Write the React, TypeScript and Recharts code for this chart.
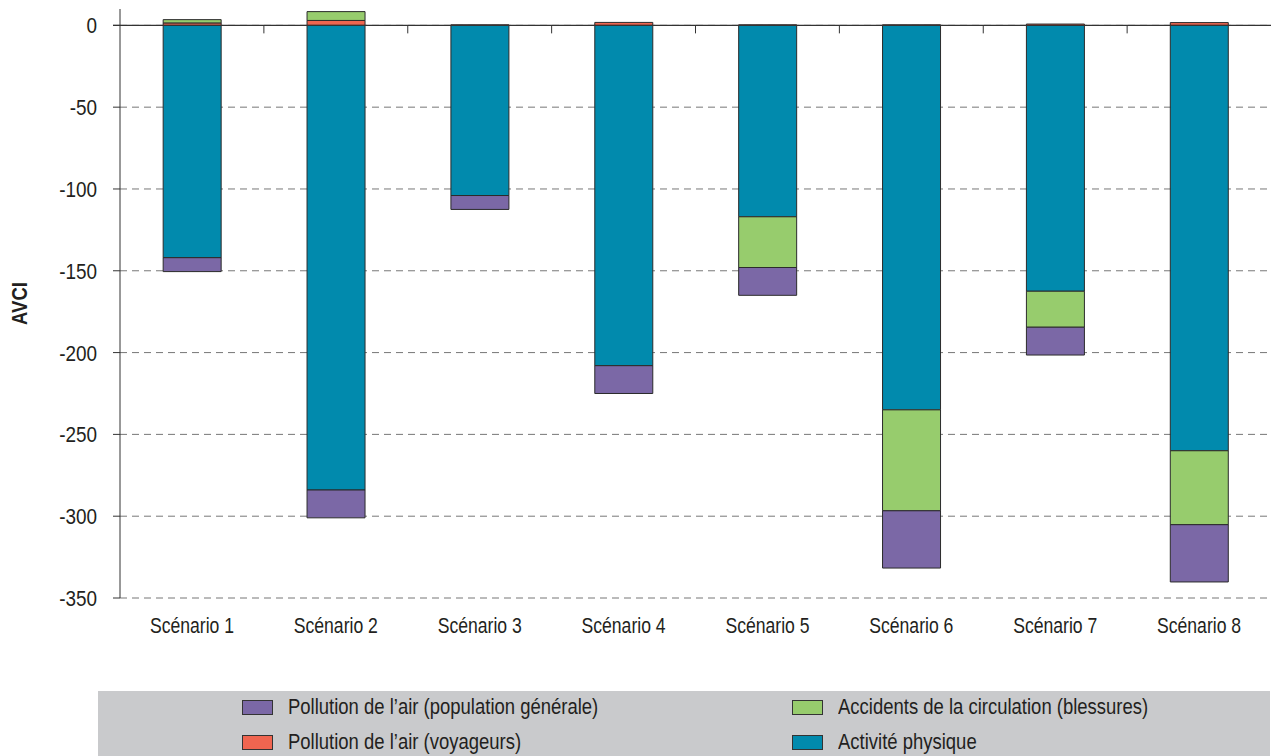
import React from "react";
import {
  BarChart,
  Bar,
  XAxis,
  YAxis,
  CartesianGrid,
  ReferenceLine,
  Legend,
} from "recharts";

const scenarios = [
  "Scénario 1",
  "Scénario 2",
  "Scénario 3",
  "Scénario 4",
  "Scénario 5",
  "Scénario 6",
  "Scénario 7",
  "Scénario 8",
];

// AVCI per scenario
const activitePhysique = [-142, -284, -104, -208, -117, -235, -162.5, -260];
const pollutionVoyageurs = [1.5, 3, 0.3, 1.8, 0.3, 0.3, 0.8, 1.7];
const accidents = [2, 5.4, 0, 0, -31, -61.7, -22, -45.2];
const pollutionGenerale = [-8.5, -17, -8.5, -17, -17, -35, -17, -35];

const yTicks = [0, -50, -100, -150, -200, -250, -300, -350];
const yDomain: [number, number] = [-350, 10];

const series = [
  { key: "activite", label: "Activité physique", color: "#018AAD" },
  { key: "voyageurs", label: "Pollution de l’air (voyageurs)", color: "#F06550" },
  { key: "accidents", label: "Accidents de la circulation (blessures)", color: "#97CC6D" },
  { key: "generale", label: "Pollution de l’air (population générale)", color: "#7B68A6" },
];

// legend is read row by row, two columns
const legendOrder = ["generale", "accidents", "voyageurs", "activite"];

const data = scenarios.map((name, i) => ({
  name,
  activite: activitePhysique[i],
  voyageurs: pollutionVoyageurs[i],
  accidents: accidents[i],
  generale: pollutionGenerale[i],
}));

// no condensed face installed, so squeeze Liberation Sans horizontally
const FONT = "'Liberation Sans', Arial, sans-serif";
const INK = "#231F20";

const XTick = ({ x, y, payload }: any) => (
  <g transform={`translate(${x},${y})`}>
    <text transform="scale(0.8,1)" textAnchor="middle" dy="0.71em" fontSize={22} fill={INK} fontFamily={FONT}>
      {payload.value}
    </text>
  </g>
);

const YTick = ({ x, y, payload }: any) => (
  <g transform={`translate(${x},${y})`}>
    <text transform="scale(0.86,1)" textAnchor="end" dy="0.36em" fontSize={22} fill={INK} fontFamily={FONT}>
      {payload.value}
    </text>
  </g>
);

const AxisTitle = ({ viewBox }: any) => {
  const cy = viewBox.y + viewBox.height / 2;
  return (
    <g transform={`translate(27,${cy}) rotate(-90)`}>
      <text transform="scale(0.84,1)" textAnchor="middle" fontSize={22} fontWeight="bold" fill={INK} fontFamily={FONT}>
        AVCI
      </text>
    </g>
  );
};

// zero line with small ticks between the scenarios
const ZeroLine = (props: any) => {
  const { x1, x2, y1 } = props;
  const step = (x2 - x1) / scenarios.length;
  const ticks = [];
  for (let i = 1; i < scenarios.length; i++) {
    const x = x1 + i * step;
    ticks.push(<line key={i} x1={x} x2={x} y1={y1} y2={y1 + 8} stroke="#333" strokeWidth={1} />);
  }
  return (
    <g>
      <line x1={x1 - 7} x2={x2} y1={y1} y2={y1} stroke="#333" strokeWidth={1.2} />
      {ticks}
    </g>
  );
};

// grid only at the labelled ticks
const gridRows = ({ offset }: any) =>
  yTicks.map((t) => offset.top + ((yDomain[1] - t) / (yDomain[1] - yDomain[0])) * offset.height);

const LegendBox = () => (
  <div
    style={{
      position: "relative",
      width: 1172,
      height: 65,
      background: "#C9CACC",
      fontFamily: FONT,
      fontSize: 22,
      color: INK,
    }}
  >
    {legendOrder.map((k, i) => {
      const s = series.find((d) => d.key === k)!;
      const col = i % 2;
      const row = Math.floor(i / 2);
      return (
        <div
          key={k}
          style={{
            position: "absolute",
            left: 144 + col * 550,
            top: 4 + row * 35,
            height: 24,
            display: "flex",
            alignItems: "center",
            whiteSpace: "nowrap",
          }}
        >
          <span
            style={{
              display: "inline-block",
              width: 31,
              height: 15,
              boxSizing: "border-box",
              border: "1px solid #333",
              background: s.color,
              marginRight: 15,
            }}
          />
          <span style={{ display: "inline-block", transform: "scaleX(0.84)", transformOrigin: "left center" }}>
            {s.label}
          </span>
        </div>
      );
    })}
  </div>
);

export default function App() {
  return (
    <div style={{ position: "absolute", left: 0, top: 0, width: 1278, height: 756, background: "#fff" }}>
      <BarChart
        width={1278}
        height={756}
        data={data}
        stackOffset="sign"
        barCategoryGap="30%"
        margin={{ top: 9, right: 7, left: 0, bottom: 118 }}
      >
        <CartesianGrid
          vertical={false}
          stroke="#777"
          strokeDasharray="7 5"
          horizontalCoordinatesGenerator={gridRows}
        />
        <XAxis
          dataKey="name"
          axisLine={false}
          tickLine={false}
          height={40}
          tickMargin={13}
          interval={0}
          tick={<XTick />}
        />
        <YAxis
          width={120}
          domain={yDomain}
          ticks={yTicks}
          interval={0}
          tickSize={7}
          tickMargin={16}
          axisLine={{ stroke: "#333" }}
          tickLine={{ stroke: "#333" }}
          tick={<YTick />}
          label={{ content: <AxisTitle /> }}
        />
        <YAxis
          yAxisId="right"
          orientation="right"
          width={0}
          domain={yDomain}
          tick={false}
          tickLine={false}
          axisLine={{ stroke: "#333" }}
        />
        {series.map((s) => (
          <Bar
            key={s.key}
            dataKey={s.key}
            name={s.label}
            stackId="a"
            fill={s.color}
            stroke="#2b2b2b"
            strokeWidth={1}
            isAnimationActive={false}
          />
        ))}
        <ReferenceLine y={0} shape={ZeroLine} ifOverflow="visible" />
        <Legend
          layout="horizontal"
          verticalAlign="middle"
          align="center"
          wrapperStyle={{ position: "absolute", left: 98, top: 691, width: 1172, height: 65 }}
          content={() => <LegendBox />}
        />
      </BarChart>
    </div>
  );
}
